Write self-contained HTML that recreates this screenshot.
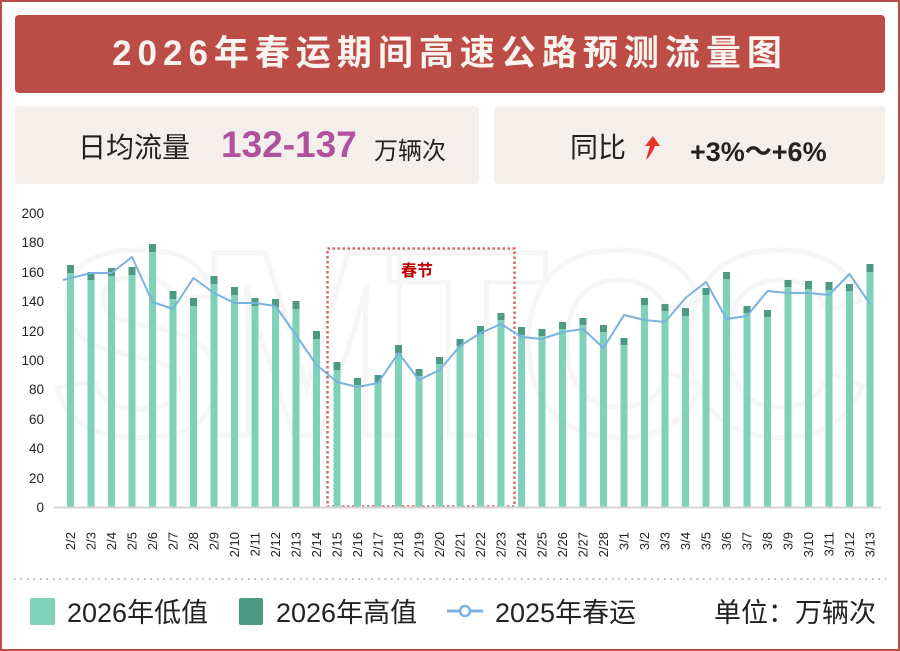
<!DOCTYPE html>
<html><head><meta charset="utf-8"><style>
body{margin:0;width:900px;height:651px;overflow:hidden;background:#fff;font-family:"Liberation Sans","Noto Sans CJK SC",sans-serif}
.frame{position:absolute;left:0;top:0;width:896px;height:647px;border:2px solid #bc4c46}
.title{position:absolute;left:15px;top:15px;width:870px;height:78px;background:#bc4c46;border-radius:4px;color:#fbf4ee;font-size:35px;font-weight:bold;letter-spacing:6px;text-align:center;line-height:78px}
.box{position:absolute;top:106px;height:78px;background:#f4efeb;border-radius:4px}
.t{position:absolute;white-space:nowrap;color:#222}
</style></head><body>
<div class="frame"></div>
<div class="title">2026年春运期间高速公路预测流量图</div>
<div class="box" style="left:15px;width:464px"></div>
<div class="box" style="left:494px;width:391px"></div>
<div class="t" style="left:78px;top:126px;font-size:28px">日均流量</div>
<div class="t" style="left:221px;top:124px;font-size:37px;font-weight:bold;color:#b0519f">132-137</div>
<div class="t" style="left:374px;top:131px;font-size:24px">万辆次</div>
<div class="t" style="left:570px;top:126px;font-size:28px">同比</div>
<svg style="position:absolute;left:640px;top:133px" width="24" height="30"><path d="M6 27 Q9 16 10 13 L5 13 L13 3 L20 13 L15 13 Q12 21 6 27Z" fill="#e8332b"/></svg>
<div class="t" style="left:690px;top:130px;font-size:27px;font-weight:bold">+3%～+6%</div>
<svg style="position:absolute;left:0;top:0" width="900" height="651">
<text x="460" y="435" font-size="265" font-family="Liberation Sans" font-weight="bold" text-anchor="middle" textLength="820" fill="none" stroke="#f6f6f6" stroke-width="5">SMTCC</text>
<g font-size="13.5" fill="#222" text-anchor="end">
<text x="44" y="512">0</text><text x="44" y="483">20</text><text x="44" y="453">40</text><text x="44" y="424">60</text><text x="44" y="394">80</text><text x="44" y="365">100</text><text x="44" y="336">120</text><text x="44" y="306">140</text><text x="44" y="277">160</text><text x="44" y="247">180</text><text x="44" y="218">200</text>
</g>
<rect x="327.5" y="248.5" width="187" height="258" fill="none" stroke="#d9686a" stroke-width="2.5" stroke-dasharray="2.5 2.5"/>
<text x="401" y="276" font-size="16" font-weight="bold" fill="#c00000">春节</text>
<g fill="#7fd1b9">
<rect x="67" y="273" width="7" height="234"/><rect x="87.5" y="280" width="7" height="227"/><rect x="108" y="276" width="7" height="231"/><rect x="128.5" y="275" width="7" height="232"/><rect x="149" y="252" width="7" height="255"/><rect x="169.5" y="299" width="7" height="208"/><rect x="190" y="306" width="7" height="201"/><rect x="210.5" y="284" width="7" height="223"/><rect x="231" y="295" width="7" height="212"/><rect x="251.5" y="306" width="7" height="201"/><rect x="272" y="307" width="7" height="200"/><rect x="292.5" y="309" width="7" height="198"/><rect x="313" y="339" width="7" height="168"/><rect x="333.5" y="370" width="7" height="137"/><rect x="354" y="385" width="7" height="122"/><rect x="374.5" y="382" width="7" height="125"/><rect x="395" y="353" width="7" height="154"/><rect x="415.5" y="376" width="7" height="131"/><rect x="436" y="364" width="7" height="143"/><rect x="456.5" y="346" width="7" height="161"/><rect x="477" y="334" width="7" height="173"/><rect x="497.5" y="320" width="7" height="187"/><rect x="518" y="335" width="7" height="172"/><rect x="538.5" y="336" width="7" height="171"/><rect x="559" y="329" width="7" height="178"/><rect x="579.5" y="325" width="7" height="182"/><rect x="600" y="332" width="7" height="175"/><rect x="620.5" y="345" width="7" height="162"/><rect x="641" y="305" width="7" height="202"/><rect x="661.5" y="311" width="7" height="196"/><rect x="682" y="316" width="7" height="191"/><rect x="702.5" y="295" width="7" height="212"/><rect x="723" y="279" width="7" height="228"/><rect x="743.5" y="313" width="7" height="194"/><rect x="764" y="317" width="7" height="190"/><rect x="784.5" y="287" width="7" height="220"/><rect x="805" y="289" width="7" height="218"/><rect x="825.5" y="290" width="7" height="217"/><rect x="846" y="291" width="7" height="216"/><rect x="866.5" y="272" width="7" height="235"/>
</g>
<g fill="#4a9a84">
<rect x="67" y="265" width="7" height="8"/><rect x="87.5" y="272" width="7" height="8"/><rect x="108" y="268" width="7" height="8"/><rect x="128.5" y="267" width="7" height="8"/><rect x="149" y="244" width="7" height="8"/><rect x="169.5" y="291" width="7" height="8"/><rect x="190" y="298" width="7" height="8"/><rect x="210.5" y="276" width="7" height="8"/><rect x="231" y="287" width="7" height="8"/><rect x="251.5" y="298" width="7" height="8"/><rect x="272" y="299" width="7" height="8"/><rect x="292.5" y="301" width="7" height="8"/><rect x="313" y="331" width="7" height="8"/><rect x="333.5" y="362" width="7" height="8"/><rect x="354" y="378" width="7" height="7"/><rect x="374.5" y="375" width="7" height="7"/><rect x="395" y="345" width="7" height="8"/><rect x="415.5" y="369" width="7" height="7"/><rect x="436" y="357" width="7" height="7"/><rect x="456.5" y="339" width="7" height="7"/><rect x="477" y="326" width="7" height="8"/><rect x="497.5" y="313" width="7" height="7"/><rect x="518" y="327" width="7" height="8"/><rect x="538.5" y="329" width="7" height="7"/><rect x="559" y="322" width="7" height="7"/><rect x="579.5" y="318" width="7" height="7"/><rect x="600" y="325" width="7" height="7"/><rect x="620.5" y="338" width="7" height="7"/><rect x="641" y="298" width="7" height="7"/><rect x="661.5" y="304" width="7" height="7"/><rect x="682" y="308" width="7" height="8"/><rect x="702.5" y="288" width="7" height="7"/><rect x="723" y="272" width="7" height="7"/><rect x="743.5" y="306" width="7" height="7"/><rect x="764" y="310" width="7" height="7"/><rect x="784.5" y="280" width="7" height="7"/><rect x="805" y="281" width="7" height="8"/><rect x="825.5" y="282" width="7" height="8"/><rect x="846" y="284" width="7" height="7"/><rect x="866.5" y="264" width="7" height="8"/>
</g>
<polyline fill="none" stroke="#7ab3e0" stroke-width="2" stroke-linejoin="round" points="63,280 91,273 111.5,273 132,257 152.5,302 173,309 193.5,278 214,293 234.5,303 255,303 275.5,306 296,335 316.5,365 337,382 357.5,387 378,383 398.5,353 419,380 439.5,370 460,346 480.5,333 501,324 521.5,337 542,339 562.5,332 583,329 603.5,348 624,315 644.5,320 665,322 685.5,298 706,282 726.5,319 747,316 767.5,291 788,293 808.5,293 829,295 849.5,274 870,304"/>
<line x1="54" y1="507.5" x2="881" y2="507.5" stroke="#d4d4d4" stroke-width="2"/>
<g font-size="13" fill="#222" text-anchor="end">
<text transform="translate(75,532) rotate(-90)">2/2</text><text transform="translate(95.5,532) rotate(-90)">2/3</text><text transform="translate(116,532) rotate(-90)">2/4</text><text transform="translate(136.5,532) rotate(-90)">2/5</text><text transform="translate(157,532) rotate(-90)">2/6</text><text transform="translate(177.5,532) rotate(-90)">2/7</text><text transform="translate(198,532) rotate(-90)">2/8</text><text transform="translate(218.5,532) rotate(-90)">2/9</text><text transform="translate(239,532) rotate(-90)">2/10</text><text transform="translate(259.5,532) rotate(-90)">2/11</text><text transform="translate(280,532) rotate(-90)">2/12</text><text transform="translate(300.5,532) rotate(-90)">2/13</text><text transform="translate(321,532) rotate(-90)">2/14</text><text transform="translate(341.5,532) rotate(-90)">2/15</text><text transform="translate(362,532) rotate(-90)">2/16</text><text transform="translate(382.5,532) rotate(-90)">2/17</text><text transform="translate(403,532) rotate(-90)">2/18</text><text transform="translate(423.5,532) rotate(-90)">2/19</text><text transform="translate(444,532) rotate(-90)">2/20</text><text transform="translate(464.5,532) rotate(-90)">2/21</text><text transform="translate(485,532) rotate(-90)">2/22</text><text transform="translate(505.5,532) rotate(-90)">2/23</text><text transform="translate(526,532) rotate(-90)">2/24</text><text transform="translate(546.5,532) rotate(-90)">2/25</text><text transform="translate(567,532) rotate(-90)">2/26</text><text transform="translate(587.5,532) rotate(-90)">2/27</text><text transform="translate(608,532) rotate(-90)">2/28</text><text transform="translate(628.5,532) rotate(-90)">3/1</text><text transform="translate(649,532) rotate(-90)">3/2</text><text transform="translate(669.5,532) rotate(-90)">3/3</text><text transform="translate(690,532) rotate(-90)">3/4</text><text transform="translate(710.5,532) rotate(-90)">3/5</text><text transform="translate(731,532) rotate(-90)">3/6</text><text transform="translate(751.5,532) rotate(-90)">3/7</text><text transform="translate(772,532) rotate(-90)">3/8</text><text transform="translate(792.5,532) rotate(-90)">3/9</text><text transform="translate(813,532) rotate(-90)">3/10</text><text transform="translate(833.5,532) rotate(-90)">3/11</text><text transform="translate(854,532) rotate(-90)">3/12</text><text transform="translate(874.5,532) rotate(-90)">3/13</text>
</g>
<line x1="14" y1="579" x2="886" y2="579" stroke="#999" stroke-width="1.5" stroke-dasharray="1.5 5"/>
<rect x="30" y="598" width="25" height="27" rx="2" fill="#7fd1b9"/>
<rect x="239" y="598" width="24" height="27" rx="2" fill="#4a9a84"/>
<line x1="447" y1="611" x2="483" y2="611" stroke="#7ab3e0" stroke-width="3"/>
<circle cx="465" cy="611" r="5" fill="#fff" stroke="#7ab3e0" stroke-width="2.5"/>
<g font-size="27" fill="#222">
<text x="67" y="622">2026年低值</text>
<text x="276" y="622">2026年高值</text>
<text x="495" y="622">2025年春运</text>
<text x="876" y="622" text-anchor="end">单位：万辆次</text>
</g>
</svg>
</body></html>
